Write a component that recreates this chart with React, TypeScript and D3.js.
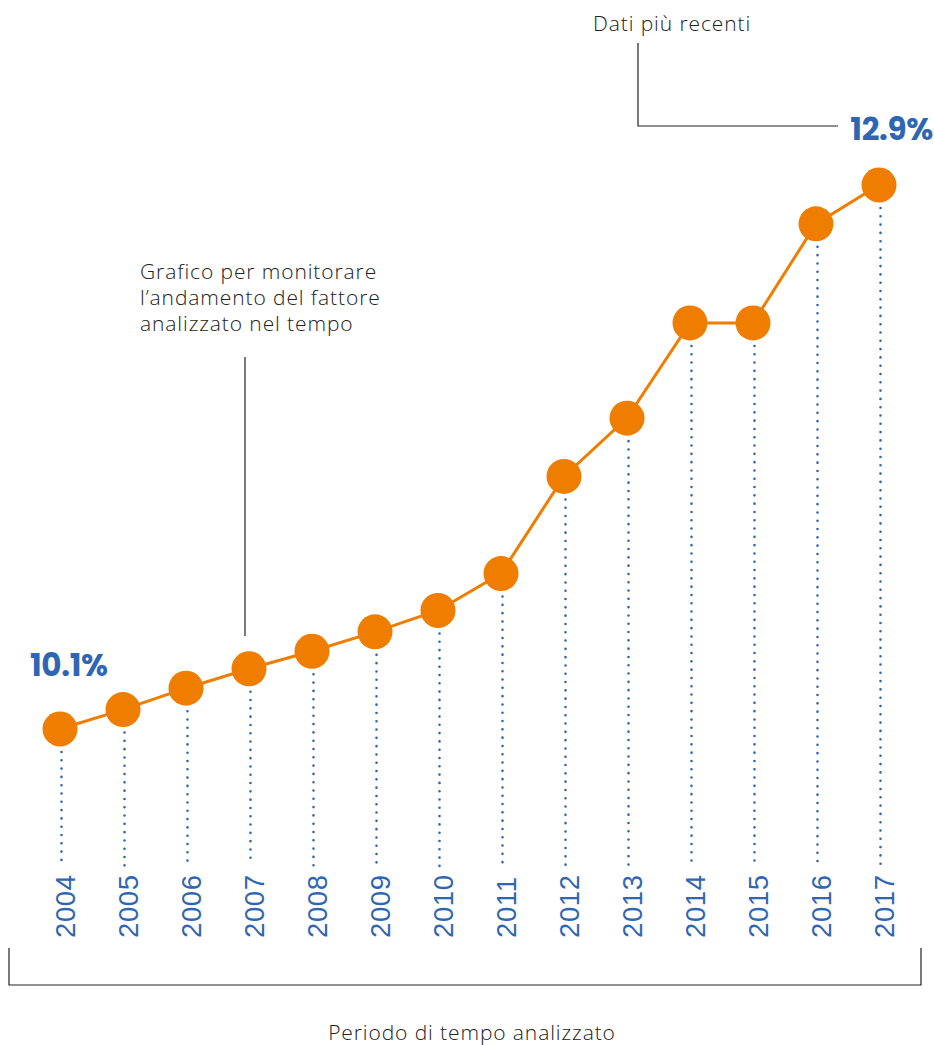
import React from "react";
import * as d3 from "d3";

const years = [2004, 2005, 2006, 2007, 2008, 2009, 2010, 2011, 2012, 2013, 2014, 2015, 2016, 2017];
const values = [10.1, 10.2, 10.31, 10.41, 10.5, 10.6, 10.71, 10.9, 11.4, 11.7, 12.19, 12.19, 12.7, 12.9];
const annotationLines = ["Grafico per monitorare", "l’andamento del fattore", "analizzato nel tempo"];
const recentLabel = "Dati più recenti";
const periodLabel = "Periodo di tempo analizzato";

const W = 934;
const H = 1045;
const ORANGE = "#ef7d00";
const BLUE = "#2f66b3";
const LIGHT_FONT = "'Open Sans', 'Noto Sans', sans-serif";

export default function App() {
  const x = d3.scalePoint<number>().domain(years).range([60, 879]);
  const y = d3.scaleLinear().domain([10.1, 12.9]).range([729, 185]);
  const line = d3
    .line<number>()
    .x((_, i) => x(years[i]) as number)
    .y((v) => y(v));

  const first = values[0];
  const last = values[values.length - 1];

  return (
    <svg
      width={W}
      height={H}
      style={{ position: "absolute", left: 0, top: 0, background: "#fff" }}
    >
      {/* dotted drop lines */}
      {years.map((yr, i) => (
        <line
          key={"d" + yr}
          x1={(x(yr) as number) + 1.5}
          x2={(x(yr) as number) + 1.5}
          y1={y(values[i]) + 23}
          y2={866}
          stroke={BLUE}
          strokeWidth={2.6}
          strokeLinecap="round"
          strokeDasharray="0 8.3"
        />
      ))}
      {/* year labels */}
      {years.map((yr) => (
        <text
          key={"t" + yr}
          transform={`translate(${(x(yr) as number) + 15},938) rotate(-90)`}
          fill={BLUE}
          fontFamily="'Liberation Sans', Arial, sans-serif"
          fontSize={27.5}
          textAnchor="start"
          letterSpacing={0.6}
        >
          {yr}
        </text>
      ))}
      {/* series line */}
      <path d={line(values) || ""} fill="none" stroke={ORANGE} strokeWidth={3} />
      {values.map((v, i) => (
        <circle key={"c" + i} cx={x(years[i]) as number} cy={y(v)} r={17.5} fill={ORANGE} />
      ))}
      {/* value labels */}
      <text x={30} y={676} fill={BLUE} fontFamily="'Poppins', 'Open Sans', sans-serif" fontWeight={700} fontSize={31} letterSpacing={-0.3}>
        {first.toFixed(1)}%
      </text>
      <text x={933} y={140} fill={BLUE} fontFamily="'Poppins', 'Open Sans', sans-serif" fontWeight={700} fontSize={31} textAnchor="end" letterSpacing={-0.3}>
        {last.toFixed(1)}%
      </text>
      {/* annotation left */}
      {annotationLines.map((t, i) => (
        <text key={"a" + i} x={140} y={279 + i * 26} fill="#222" fontFamily={LIGHT_FONT} fontWeight={300} fontSize={21} letterSpacing={0.9}>
          {t}
        </text>
      ))}
      <line x1={245} x2={245} y1={357} y2={636} stroke="#222" strokeWidth={1.2} />
      {/* annotation top */}
      <text x={593} y={31} fill="#222" fontFamily={LIGHT_FONT} fontWeight={300} fontSize={21} letterSpacing={0.9}>
        {recentLabel}
      </text>
      <polyline points="638,43 638,126 838,126" fill="none" stroke="#222" strokeWidth={1.2} />
      {/* bracket */}
      <polyline points="9,948 9,985 921,985 921,948" fill="none" stroke="#222" strokeWidth={1.2} />
      <text x={472} y={1040} fill="#222" fontFamily={LIGHT_FONT} fontWeight={300} fontSize={21} textAnchor="middle" letterSpacing={0.9}>
        {periodLabel}
      </text>
    </svg>
  );
}
